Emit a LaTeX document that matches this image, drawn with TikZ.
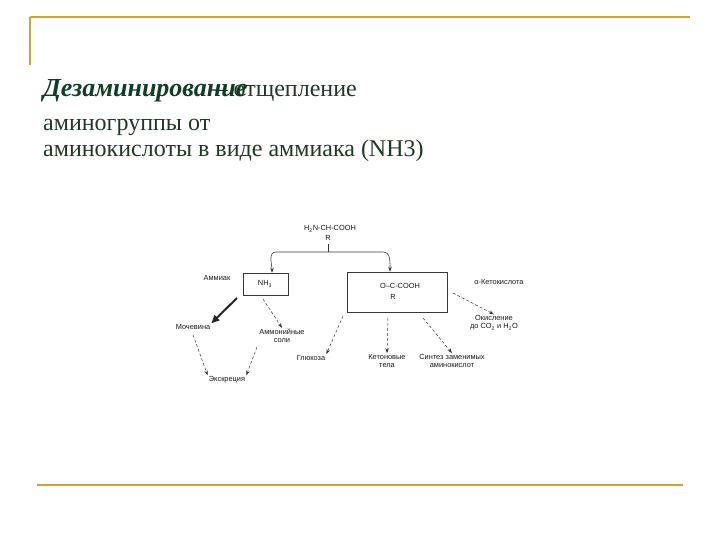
\documentclass[tikz,border=0pt]{standalone}
\usepackage{fontspec}
\setmainfont{Liberation Serif}
\newfontfamily\diag{Liberation Sans}
\usetikzlibrary{arrows.meta}
\definecolor{gold}{HTML}{C8A832}
\definecolor{txt}{HTML}{1E3A22}
\definecolor{ttl}{HTML}{0E3E24}
\definecolor{ln}{HTML}{383838}
\begin{document}
\begin{tikzpicture}[x=1pt,y=-1pt,
  lbl/.style={font=\diag\fontsize{7.4}{8.2}\selectfont, align=center, inner sep=1pt, text=black!90},
  box/.style={draw=ln, line width=0.5pt, fill=white},
  arr/.style={-{Stealth[length=5pt,width=3.5pt]}, draw=ln, line width=0.5pt, densely dashed},
  solidarr/.style={-{Stealth[length=5pt,width=3.5pt]}, draw=ln, line width=0.6pt},
  heading/.style={font=\fontsize{24}{28}\selectfont, text=txt, inner sep=0pt}]
\useasboundingbox (0,0) rectangle (720,540);
% frame lines
\draw[gold, line width=1.5pt] (30,17) -- (690,17);
\draw[gold, line width=1.5pt] (30,17) -- (30,65);
\draw[gold, line width=1.5pt] (37,485) -- (683,485);
% heading
\node[heading, anchor=base east] (h2) at (357,97) {– отщепление};
\node[heading, anchor=base west, font=\fontsize{26}{30}\selectfont\bfseries\itshape, text=ttl] (h1) at (43,97) {Дезаминирование};
\node[heading, anchor=base west] (h3) at (43,131) {аминогруппы от};
\node[heading, anchor=base west] (h4) at (43,157) {аминокислоты в виде аммиака (NH3)};
% diagram
\node[lbl] (aa) at (330,229) {H\textsubscript{2}N-CH-COOH};
\node[lbl] (r1) at (328,238) {R};
\coordinate (bc) at (328,244);
\coordinate (bm) at (328,252);
\node[box, minimum width=45pt, minimum height=22pt] (nh3) at (265.5,284) {};
\node[lbl] (nh3t) at (265,284) {NH\textsubscript{3}};
\node[box, minimum width=100pt, minimum height=40pt] (keto) at (397,292) {};
\node[lbl] (k1) at (400,286) {O–C-COOH};
\node[lbl] (k2) at (393,297) {R};
\node[lbl] (amm) at (217,278) {Аммиак};
\node[lbl] (ak) at (499,282) {α-Кетокислота};
\node[lbl] (moch) at (193,327) {Мочевина};
\node[lbl] (ams) at (282,336) {Аммонийные\\соли};
\node[lbl] (exc) at (227,380) {Экскреция};
\node[lbl] (glu) at (311,358) {Глюкоза};
\node[lbl] (ket) at (387,361) {Кетоновые\\тела};
\node[lbl] (syn) at (452,361) {Синтез заменимых\\аминокислот};
\node[lbl] (ox) at (494,323) {Окисление\\до CO\textsubscript{2} и H\textsubscript{2}O};
% brace
\draw[ln, line width=0.6pt] (bc) -- (bm);
\draw[solidarr] (bm) -- (276,252) to[out=180,in=90] (nh3.north -| 272,0);
\draw[solidarr] (bm) -- (383,252) to[out=0,in=90] (keto.north -| 390,0);
% arrows
\draw[-{Triangle[length=8pt,width=7pt]}, line width=2pt, draw=black!85] (237,298) -- (moch.north east);
\draw[arr] (263,299) -- (ams.north);
\draw[arr] (moch.south) ++(0,4) -- (exc.north west);
\draw[arr] (257,347) -- (exc.north east);
\draw[arr] (343,316) -- (glu.north east);
\draw[arr] (388,318) -- (ket.north);
\draw[arr] (423,318) -- (syn.north);
\draw[arr] (453,293) -- (ox.north);
\end{tikzpicture}
\end{document}
